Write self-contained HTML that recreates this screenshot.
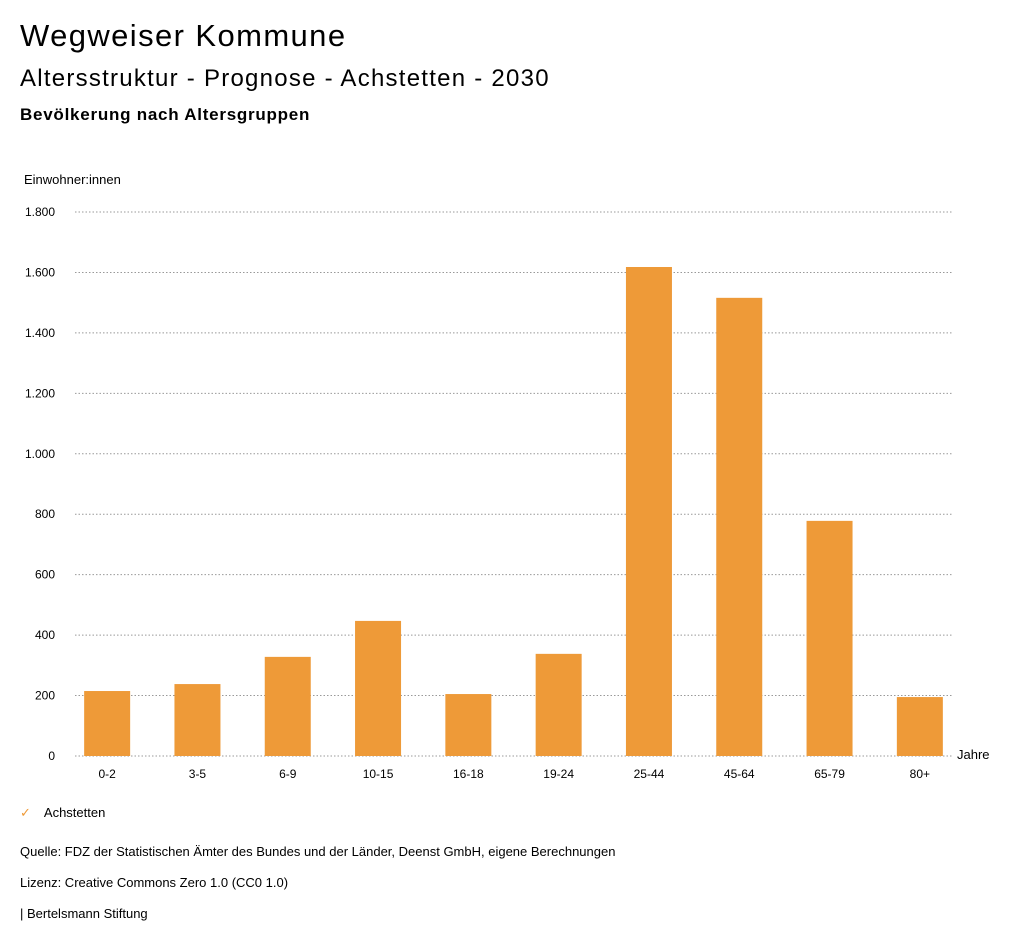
<!DOCTYPE html>
<html><head><meta charset="utf-8"><style>
body{margin:0;background:#fff;font-family:"Liberation Sans",sans-serif;color:#000}
#wrap{position:relative;width:1024px;height:946px;overflow:hidden}
.t{position:absolute;white-space:nowrap}
</style></head><body><div id="wrap">
<div class="t" style="left:20px;top:18px;font-size:31px;letter-spacing:1.4px">Wegweiser Kommune</div>
<div class="t" style="left:20px;top:65px;font-size:24px;letter-spacing:1.25px">Altersstruktur - Prognose - Achstetten - 2030</div>
<div class="t" style="left:20px;top:105px;font-size:17px;font-weight:bold;letter-spacing:0.75px">Bevölkerung nach Altersgruppen</div>
<svg id="chart" width="1024" height="946" style="position:absolute;left:0;top:0"></svg>
<div class="t" style="left:20px;top:805px;font-size:13px"><span style="color:#ee9a38;margin-right:13px">✓</span>Achstetten</div>
<div class="t" style="left:20px;top:844px;font-size:13px">Quelle: FDZ der Statistischen Ämter des Bundes und der Länder, Deenst GmbH, eigene Berechnungen</div>
<div class="t" style="left:20px;top:875px;font-size:13px">Lizenz: Creative Commons Zero 1.0 (CC0 1.0)</div>
<div class="t" style="left:20px;top:906px;font-size:13px">| Bertelsmann Stiftung</div>
</div>
<script>
const categories=["0-2","3-5","6-9","10-15","16-18","19-24","25-44","45-64","65-79","80+"];
const values=[215,238,328,447,205,338,1618,1516,778,195];
const yTicks=[0,200,400,600,800,1000,1200,1400,1600,1800];
const yTickLabels=["0","200","400","600","800","1.000","1.200","1.400","1.600","1.800"];
const svg=document.getElementById('chart');const NS='http://www.w3.org/2000/svg';
const y0=756,y1=212,yMax=1800,x0=62,band=90.3,bw=46;
const y=v=>y0-(v/yMax)*(y0-y1);
const xc=i=>x0+band*(i+0.5);
function mk(t,a){const e=document.createElementNS(NS,t);for(const k in a)e.setAttribute(k,a[k]);svg.appendChild(e);return e;}
let e=mk('text',{x:24,y:184,'font-size':13,'font-family':'Liberation Sans,sans-serif'});e.textContent='Einwohner:innen';


yTicks.forEach((t,i)=>{
 const l=mk('line',{x1:75,x2:953,y1:y(t),y2:y(t),stroke:'#999','stroke-dasharray':'1.5,2','stroke-width':1});
 
 
 const tx=mk('text',{x:55,y:y(t)+4,'font-size':12,'text-anchor':'end','font-family':'Liberation Sans,sans-serif'});
 tx.textContent=yTickLabels[i];
 
 
});
categories.forEach((c,i)=>{
 const r=mk('rect',{x:xc(i)-bw/2,y:y(values[i]),width:bw,height:y0-y(values[i]),fill:'#ee9a38'});
 
 
 const tx=mk('text',{x:xc(i),y:778,'font-size':12,'text-anchor':'middle','font-family':'Liberation Sans,sans-serif'});
 tx.textContent=c;
 
 
});
e=mk('text',{x:957,y:759,'font-size':13,'font-family':'Liberation Sans,sans-serif'});e.textContent='Jahre';


</script></body></html>
